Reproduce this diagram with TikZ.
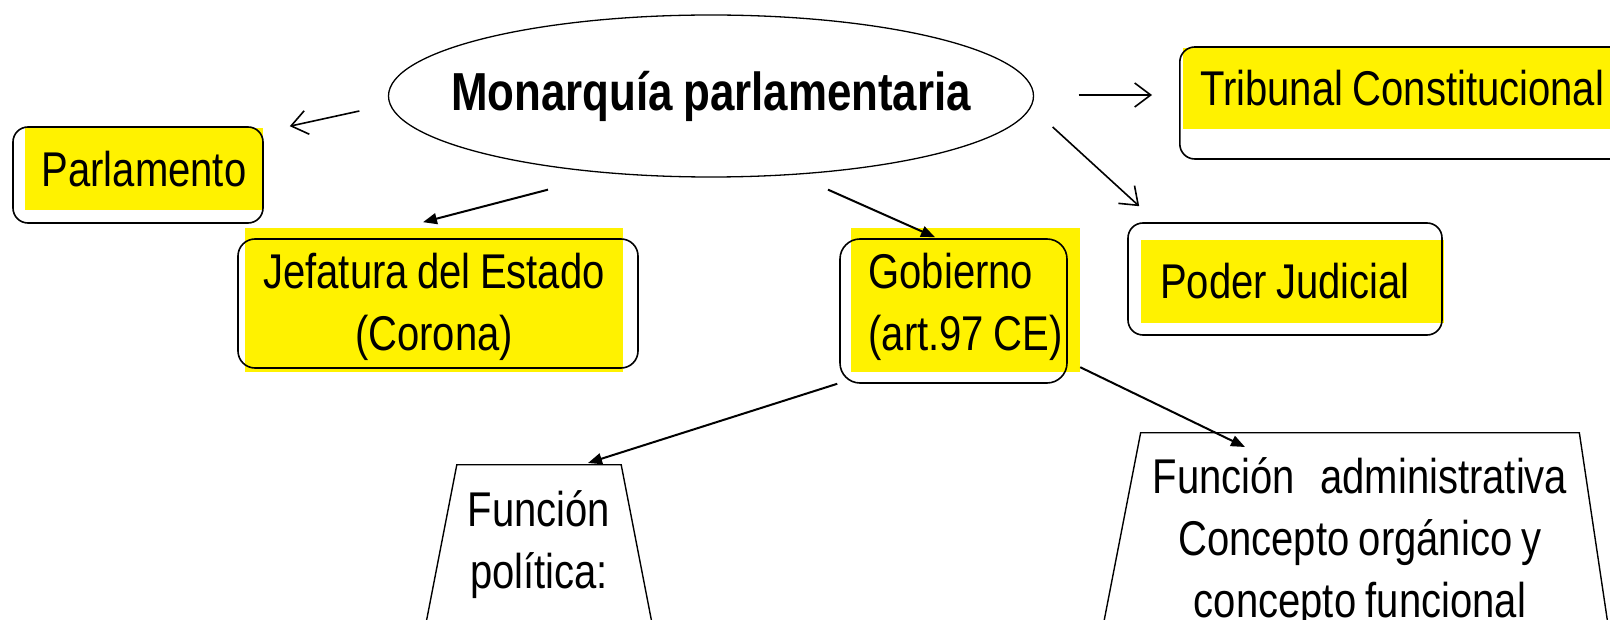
\documentclass[tikz,border=0pt]{standalone}
\usepackage{fontspec}
\setmainfont{Liberation Sans}[FakeStretch=0.82,WordSpace=0.85]
\usetikzlibrary{positioning,shapes.geometric,arrows.meta,calc}

\tikzset{
  hl/.style={fill=yellow,inner sep=0pt},
  frame/.style={draw,rounded corners=15pt,line width=1.6pt,inner sep=0pt},
  func/.style={draw,trapezium,trapezium angle=79,line width=1.4pt,align=center},
  openarr/.style={line width=1.6pt,-{Straight Barb[length=16pt,width=24pt]}},
  fullarr/.style={line width=2pt,-{Triangle[length=14pt,width=11pt]}},
}

\begin{document}
\begin{tikzpicture}[x=1pt,y=-1pt,font=\fontsize{48.8pt}{62pt}\selectfont]
\useasboundingbox (0,0) rectangle (1610,620);
\clip (0,0) rectangle (1610,620);

\node[draw,ellipse,minimum width=645pt,minimum height=162pt,inner xsep=-60pt,inner ysep=0pt,line width=1.3pt,font=\fontsize{53.5pt}{60pt}\selectfont\bfseries] (mon) at (711,96) {Monarquía parlamentaria};

\node[hl,minimum width=238pt,minimum height=82pt] (parl) at (144,169) {Parlamento};
\node[frame,minimum width=250pt,minimum height=96pt] (parlbox) at (138,175) {};

\node[hl,align=center,minimum width=378pt,minimum height=144pt] (jef) at (434,300) {\rule{0pt}{50pt}Jefatura del Estado\\(Corona)};
\node[frame,rounded corners=17pt,minimum width=400pt,minimum height=129pt] (jefbox) at (438,303.5) {};

\node[hl,align=left,minimum width=229pt,minimum height=144pt] (gob) at (965.5,300) {\rule{0pt}{50pt}Gobierno\\(art.97 CE)};
\node[frame,rounded corners=20pt,minimum width=227pt,minimum height=144pt] (gobbox) at (953.5,311) {};

\node[hl,anchor=west,inner xsep=19pt,minimum height=83pt] (poder) at (1141,281.5) {Poder Judicial\hspace*{15pt}};
\node[frame,minimum width=314pt,minimum height=112pt] (poderbox) at (1285,279) {};

\node[hl,anchor=west,inner xsep=17pt,minimum height=81pt] (trib) at (1183,88.5) {Tribunal Constitucional\hspace*{40pt}};
\node[frame,anchor=west,minimum width=470pt,minimum height=112pt] (tribbox) at (1179,103) {};

\node[func,anchor=top side,inner xsep=11pt,inner ysep=26pt] (fpol) at (539,464) {Función\\política:\rule[-30pt]{0pt}{0pt}};
\node[func,trapezium left angle=79,trapezium right angle=81.5,anchor=top side,inner xsep=12pt,inner ysep=25pt] (fadm) at (1360,432) {Función\hspace{16pt} administrativa\\Concepto orgánico y\\concepto funcional\rule[-40pt]{0pt}{0pt}};

\draw[openarr] ($(mon.west)+(-28.5,15)$) -- ($(parlbox.north east)+(26,0)$);
\draw[openarr] ($(mon.east)+(44.5,-1)$) -- ($(tribbox.west)+(-27,-8)$);
\draw[openarr] ($(mon.east)+(18.5,31)$) -- ($(poderbox.north west)+(12,-16)$);
\draw[fullarr] ($(mon.south)+(-163,12)$) -- ($(jefbox.north)+(-15,-16)$);
\draw[fullarr] ($(mon.south)+(117,12)$) -- ($(gobbox.north)+(-18.5,-1)$);
\draw[fullarr] ($(gobbox.south west)+(-2,0)$) -- ($(fpol.top side)+(49,-1)$);
\draw[fullarr] ($(gob.south east)+(0,-5)$) -- ($(fadm.top side)+(-115,15)$);
\end{tikzpicture}
\end{document}
